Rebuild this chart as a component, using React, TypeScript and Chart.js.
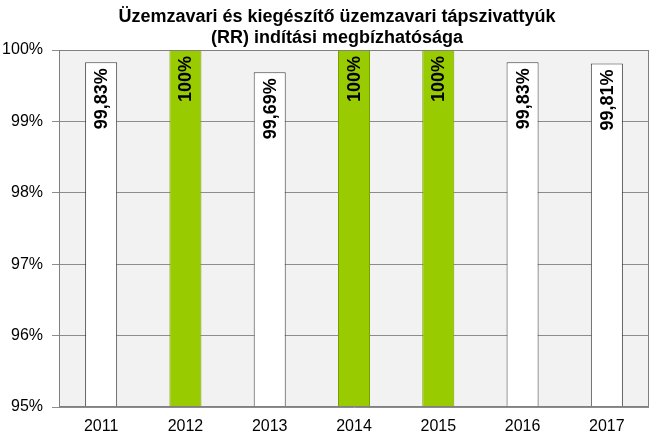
import React, { useEffect, useRef } from "react";
import { Chart, registerables } from "chart.js";

Chart.register(...registerables);

const categories = ["2011", "2012", "2013", "2014", "2015", "2016", "2017"];
const values = [99.83, 100, 99.69, 100, 100, 99.83, 99.81];
const valueLabels = ["99,83%", "100%", "99,69%", "100%", "100%", "99,83%", "99,81%"];
const highlighted = [false, true, false, true, true, false, false];
const yTicks = [95, 96, 97, 98, 99, 100];
const titleLines = ["Üzemzavari és kiegészítő üzemzavari tápszivattyúk", "(RR) indítási megbízhatósága"];

const FONT = "'Liberation Sans', Arial, sans-serif";

const bgPlugin = {
  id: "plotBg",
  beforeDraw(chart: any) {
    const { ctx, chartArea } = chart;
    ctx.save();
    ctx.fillStyle = "#f2f2f2";
    ctx.fillRect(chartArea.left, chartArea.top, chartArea.right - chartArea.left, chartArea.bottom - chartArea.top);
    ctx.restore();
  },
  afterDraw(chart: any) {
    const { ctx, chartArea } = chart;
    ctx.save();
    ctx.strokeStyle = "#808080";
    ctx.lineWidth = 1;
    ctx.strokeRect(chartArea.left + 0.5, chartArea.top + 0.5, chartArea.right - chartArea.left - 1, chartArea.bottom - chartArea.top - 1);
    // title
    ctx.font = `bold 18px ${FONT}`;
    ctx.fillStyle = "#000";
    ctx.textAlign = "center";
    ctx.textBaseline = "middle";
    const cx = (chartArea.left + chartArea.right) / 2 - 17;
    ctx.fillText(titleLines[0], cx, 17);
    ctx.fillText(titleLines[1], cx, 38);
    ctx.restore();
  },
};

const labelPlugin = {
  id: "barLabels",
  afterDatasetsDraw(chart: any) {
    const { ctx } = chart;
    const meta = chart.getDatasetMeta(0);
    ctx.save();
    ctx.font = `bold 18px ${FONT}`;
    ctx.fillStyle = "#000";
    meta.data.forEach((bar: any, i: number) => {
      ctx.save();
      ctx.translate(bar.x + 1, bar.y + 6);
      ctx.rotate(-Math.PI / 2);
      ctx.textAlign = "right";
      ctx.textBaseline = "middle";
      ctx.fillText(valueLabels[i], 0, 0);
      ctx.restore();
    });
    ctx.restore();
  },
};

export default function App() {
  const ref = useRef<HTMLCanvasElement>(null);
  useEffect(() => {
    document.body.style.margin = "0";
    const chart = new Chart(ref.current!, {
      type: "bar",
      data: {
        labels: categories,
        datasets: [
          {
            data: values,
            backgroundColor: highlighted.map((h) => (h ? "#99cc00" : "#ffffff")),
            borderColor: highlighted.map((h) => (h ? "#7a9e00" : "#404040")),
            borderWidth: 1,
            barPercentage: 0.38,
            categoryPercentage: 1,
            base: 95,
          },
        ],
      },
      options: {
        animation: false,
        responsive: false,
        maintainAspectRatio: false,
        layout: { padding: { left: 0, right: 10, top: 50, bottom: 0 } },
        plugins: {
          legend: { display: false },
          tooltip: { enabled: false },
          title: { display: false },
        },
        scales: {
          x: {
            grid: { display: false, drawTicks: false },
            border: { display: false },
            ticks: { color: "#000", font: { family: FONT, size: 16 }, padding: 10 },
            afterFit(scale: any) {
              scale.height = 41;
            },
          },
          y: {
            min: 95,
            max: 100,
            afterBuildTicks(scale: any) {
              scale.ticks = yTicks.map((v) => ({ value: v }));
            },
            grid: { color: "#8c8c8c", tickLength: 7 },
            border: { color: "#808080" },
            ticks: {
              color: "#000",
              font: { family: FONT, size: 16 },
              padding: 9,
              callback: (v: any) => `${v}%`,
            },
            afterFit(scale: any) {
              scale.width = 59;
            },
          },
        },
      },
      plugins: [bgPlugin, labelPlugin],
    });
    return () => chart.destroy();
  }, []);
  return (
    <div style={{ position: "absolute", left: 0, top: 0, width: 659, height: 448 }}>
      <canvas ref={ref} width={659} height={448} style={{ width: 659, height: 448 }} />
    </div>
  );
}
